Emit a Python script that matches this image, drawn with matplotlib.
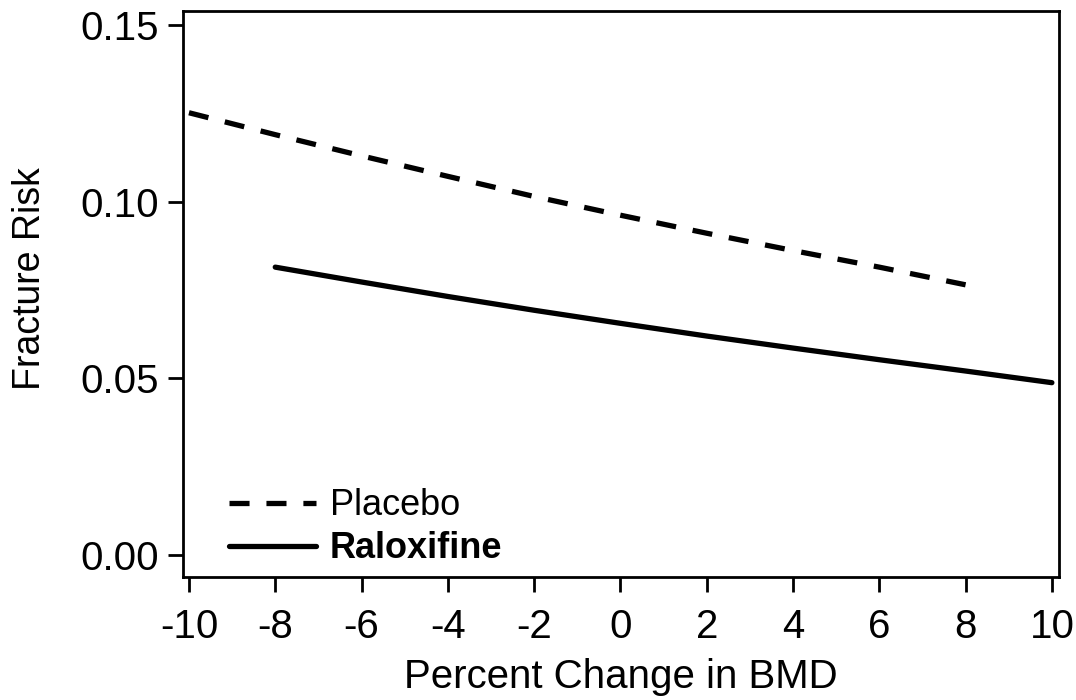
import matplotlib
matplotlib.use("Agg")
import matplotlib.pyplot as plt

plt.rcParams['font.family'] = ['Liberation Sans', 'DejaVu Sans']

bmd_placebo = [-10, -8, -6, -4, -2, 0, 2, 4, 6, 8]
risk_placebo = [0.1252, 0.1190, 0.1130, 0.1072, 0.1015, 0.0962, 0.0911, 0.0862, 0.0815, 0.0765]
bmd_ralox = [-8, -6, -4, -2, 0, 2, 4, 6, 8, 10]
risk_ralox = [0.0815, 0.0773, 0.0732, 0.0693, 0.0656, 0.0620, 0.0586, 0.0553, 0.0521, 0.0488]
xticks = [-10, -8, -6, -4, -2, 0, 2, 4, 6, 8, 10]
yticks = [0.00, 0.05, 0.10, 0.15]
ytick_labels = ["0.00", "0.05", "0.10", "0.15"]

fig = plt.figure(figsize=(10.76, 7.0), dpi=100)
ax = fig.add_axes([0.170, 0.1757, 0.814, 0.8086])

lw = 3.8
l1, = ax.plot(bmd_placebo, risk_placebo, color='black', lw=lw, linestyle=(0, (3.8, 3.2)),
              dash_capstyle='butt', label='Placebo')
l2, = ax.plot(bmd_ralox, risk_ralox, color='black', lw=lw, solid_capstyle='round', label='Raloxifine')

ax.set_xlim(-10.14, 10.16)
ax.set_ylim(-0.0062, 0.154)
ax.set_xticks(xticks)
ax.set_xticklabels([str(t) for t in xticks])
ax.set_yticks(yticks)
ax.set_yticklabels(ytick_labels)
ax.tick_params(axis='both', direction='out', length=11, width=2, labelsize=29, color='black')
ax.tick_params(axis='x', pad=11)
ax.tick_params(axis='y', pad=6)
for s in ax.spines.values():
    s.set_linewidth(2)

ax.set_xlabel('Percent Change in BMD', fontsize=29, labelpad=9)
ax.set_ylabel('Fracture Risk', fontsize=27)
ax.yaxis.set_label_coords(-0.154, 0.527)

leg = ax.legend(handles=[l1, l2], loc='lower left', bbox_to_anchor=(0.032, -0.013), frameon=False,
                fontsize=26, handlelength=2.4, handletextpad=0.4, labelspacing=0.22, borderpad=0)
leg.get_texts()[1].set_fontweight('bold')

fig.savefig('out.png', dpi=100, facecolor='white')
